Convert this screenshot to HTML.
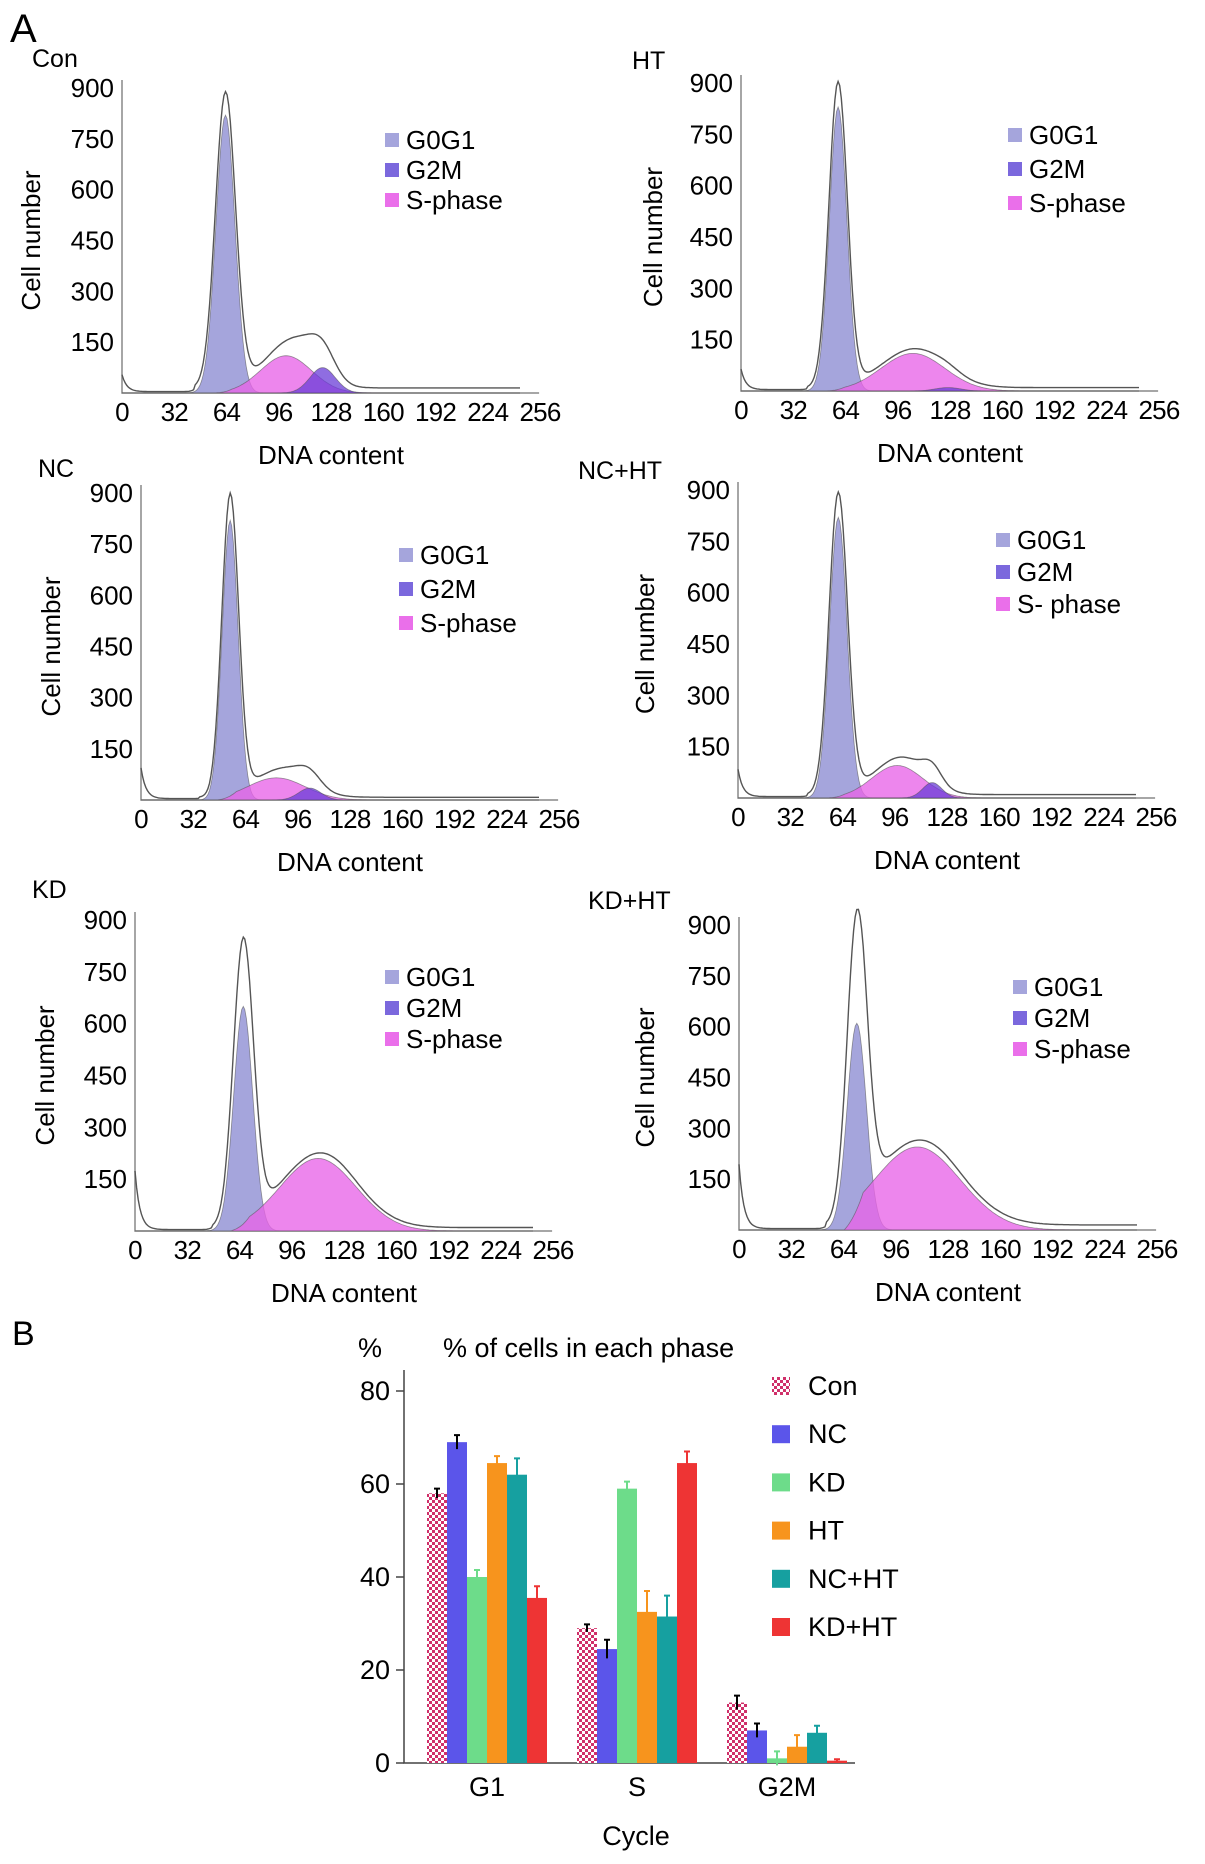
<!DOCTYPE html>
<html><head><meta charset="utf-8">
<style>
html,body{margin:0;padding:0;background:#fff;}
svg{display:block;font-family:"Liberation Sans",Arial,sans-serif;}
</style></head>
<body>
<svg id="fig" width="1205" height="1864" viewBox="0 0 1205 1864" xmlns="http://www.w3.org/2000/svg">
<defs>
<pattern id="checker" width="6" height="6" patternUnits="userSpaceOnUse">
<rect width="6" height="6" fill="#fff"/>
<rect width="3" height="3" fill="#d0306a"/><rect x="3" y="3" width="3" height="3" fill="#d0306a"/>
</pattern>
</defs>
<text x="10" y="42" font-size="40">A</text>
<text x="12" y="1345" font-size="34">B</text>
</svg>
<script>
// ---- Histogram data (DNA units / cell counts) ----
const panelNames = ["Con","HT","NC","NC+HT","KD","KD+HT"];
const g1Mean = [65,61,56,63,68,74];
const g1Height = [820,830,820,820,650,610];
const g1Sd = [6,5.5,5,5.5,6,6];
const outlinePeak = [870,890,880,880,820,870];
const sMean = [103,108,85,100,115,112];
const sHeight = [110,110,65,95,210,245];
const sSd = [16,20,18,16,24,27];
const g2Mean = [126,130,106,122,140,140];
const g2Height = [75,10,35,45,0,0];
const g2Sd = [8,8,7,6,8,8];
const extraBumpHeight = [45,5,25,20,10,10];
const debrisHeight = [50,60,90,80,170,190];
const tailLevel = [15,10,8,10,10,15];
const legendSecond = ["S-phase","S-phase","S-phase","S- phase","S-phase","S-phase"];
const yTicks = [150,300,450,600,750,900];
const xTicks = [0,32,64,96,128,160,192,224,256];

// ---- Bar chart data ----
const cycles = ["G1","S","G2M"];
const groups = ["Con","NC","KD","HT","NC+HT","KD+HT"];
const conVals = [58,29,13];
const ncVals = [69,24.5,7];
const kdVals = [40,59,1];
const htVals = [64.5,32.5,3.5];
const ncHtVals = [62,31.5,6.5];
const kdHtVals = [35.5,64.5,0.5];
const conErr = [1,0.8,1.5];
const ncErr = [1.5,2,1.5];
const kdErr = [1.5,1.5,1.5];
const htErr = [1.5,4.5,2.5];
const ncHtErr = [3.5,4.5,1.5];
const kdHtErr = [2.5,2.5,0.3];
const barTicks = [0,20,40,60,80];

const NS="http://www.w3.org/2000/svg";
const svg=document.getElementById('fig');
function mk(tag,attrs,parent){const e=document.createElementNS(NS,tag);for(const k in attrs)e.setAttribute(k,attrs[k]);(parent||svg).appendChild(e);return e;}
function txt(s,attrs,parent){const e=mk('text',attrs,parent);e.textContent=s;return e;}
function gauss(x,m,h,s){return h*Math.exp(-0.5*((x-m)/s)*(x-m)/s);}

// layout (pixels)
const layout=[
 {ox:122,base:393,top:88,lx:392,ly:140,dy:30,title:[32,58],cn:31},
 {ox:741,base:391,top:83,lx:1015,ly:135,dy:34,title:[632,60],cn:653},
 {ox:141,base:800,top:493,lx:406,ly:555,dy:34,title:[38,468],cn:51},
 {ox:738,base:798,top:490,lx:1003,ly:540,dy:32,title:[578,470],cn:645},
 {ox:135,base:1231,top:920,lx:392,ly:977,dy:31,title:[32,889],cn:45},
 {ox:739,base:1230,top:925,lx:1020,ly:987,dy:31,title:[588,900],cn:645}
];
const W=418;
panelNames.forEach((name,i)=>{
  const L=layout[i];
  const g=mk('g',{});
  
  
  const perCount=(L.base-L.top)/900;
  const X=v=>L.ox+v/256*W*0.975;
  const Y=c=>L.base-c*perCount;
  const t=txt(name,{x:L.title[0],y:L.title[1]+9,'font-size':25},g);
  
  
  const ax=mk('path',{d:`M${L.ox} ${L.top-8} V${L.base} H${X(262)}`,stroke:'#888',fill:'none','stroke-width':1.5},g);
  
  
  yTicks.forEach(v=>{
    const tl=txt(String(v),{x:L.ox-8,y:Y(v)+9,'font-size':26,'text-anchor':'end'},g);
    
    
  });
  xTicks.forEach(v=>{
    const tl=txt(String(v),{x:L.ox+v/256*W,y:L.base+28,'font-size':26,'text-anchor':'middle','letter-spacing':'-0.8'},g);
    
    
  });
  const xt=txt('DNA content',{x:L.ox+W/2,y:L.base+71,'font-size':26,'text-anchor':'middle'},g);
  
  
  const cy=(L.top+L.base)/2;
  const yt=txt('Cell number',{x:L.cn,y:cy,'font-size':26,'text-anchor':'middle',transform:`rotate(-90 ${L.cn} ${cy})`,dy:9},g);
  
  
  const comp=(f,fill,nm)=>{
    let d=`M${X(0)} ${L.base}`;
    for(let v=0;v<=250;v+=1)d+=` L${X(v).toFixed(1)} ${Y(f(v)).toFixed(1)}`;
    d+=` L${X(250)} ${L.base} Z`;
    const p=mk('path',{d,fill,stroke:'#555','stroke-width':0.8,'stroke-opacity':0.6},g);
    
    
  };
  const sF=v=>{const lo=g1Mean[i]-8; if(v<lo)return 0; const r=Math.min(1,(v-lo)/12); return gauss(v,sMean[i],sHeight[i],sSd[i])*r;};
  comp(v=>gauss(v,g1Mean[i],g1Height[i],g1Sd[i]),'#a5a5dc','g0g1-area');
  comp(sF,'rgba(232,100,232,0.78)','s-phase-area');
  if(g2Height[i]>0)comp(v=>gauss(v,g2Mean[i],g2Height[i],g2Sd[i]),'rgba(105,60,215,0.75)','g2m-area');
  let d='';
  for(let v=0;v<=250;v+=1){
    let c=gauss(v,g1Mean[i],outlinePeak[i],g1Sd[i]*1.05)+sF(v)+gauss(v,g2Mean[i],g2Height[i],g2Sd[i])
      +gauss(v,(sMean[i]+g2Mean[i])/2,extraBumpHeight[i],12)+debrisHeight[i]*Math.exp(-v/3)
      +(v>g1Mean[i]-20?tailLevel[i]:4);
    d+=(v?' L':'M')+X(v).toFixed(1)+' '+Y(c).toFixed(1);
  }
  const ol=mk('path',{d,fill:'none',stroke:'#555','stroke-width':1.4},g);
  
  
  const lg=[['G0G1','#a5a5dc'],['G2M','#7b68dd'],[legendSecond[i],'#ea6fea']];
  lg.forEach((e,k)=>{
    const yy=L.ly+k*L.dy;
    const s=mk('rect',{x:L.lx-7,y:yy-7,width:14,height:14,fill:e[1]},g);
    
    
    const lt=txt(e[0],{x:L.lx+14,y:yy+9,'font-size':26},g);
    
    
  });
});

// ---- bar chart ----
const bg=mk('g',{});


const ox=404, y0=1763, per=(1763-1391)/80, bw=20, gx=[427,577,727];
const Yb=v=>y0-v*per;
const series=[conVals,ncVals,kdVals,htVals,ncHtVals,kdHtVals];
const errs=[conErr,ncErr,kdErr,htErr,ncHtErr,kdHtErr];
const cols=['url(#checker)','#5b55ea','#6ddc8a','#f7941d','#16a0a0','#ee3434'];
const ecols=['#000','#000','#6ddc8a','#f7941d','#16a0a0','#ee3434'];
const ax2=mk('path',{d:`M${ox} 1370 V${y0} H855`,stroke:'#444',fill:'none','stroke-width':1.5},bg);


barTicks.forEach(v=>{
  const tk=mk('line',{x1:ox-8,x2:ox,y1:Yb(v),y2:Yb(v),stroke:'#444','stroke-width':1.5},bg);
  
  
  const tl=txt(String(v),{x:ox-14,y:Yb(v)+9,'font-size':27,'text-anchor':'end'},bg);
  
  
});
cycles.forEach((c,ci)=>{
  const cl=txt(c,{x:gx[ci]+60,y:1796,'font-size':27,'text-anchor':'middle'},bg);
  
  
  series.forEach((s,si)=>{
    const x=gx[ci]+si*bw;
    const r=mk('rect',{x:x,y:Yb(s[ci]),width:bw,height:y0-Yb(s[ci]),fill:cols[si]},bg);
    
    
    const e=errs[si][ci];
    const eb=mk('path',{d:`M${x+bw/2} ${Yb(s[ci]+e)} V${Yb(s[ci]-e)} M${x+bw/2-3} ${Yb(s[ci]+e)} H${x+bw/2+3}`,stroke:ecols[si],'stroke-width':2,fill:'none'},bg);
    
    
  });
});
const pc=txt('%',{x:358,y:1357,'font-size':27},bg);


const tt=txt('% of cells in each phase',{x:443,y:1357,'font-size':27},bg);


const ct=txt('Cycle',{x:636,y:1845,'font-size':27,'text-anchor':'middle'},bg);


groups.forEach((gname,gi)=>{
  const yy=1386+gi*48.2;
  const sw=mk('rect',{x:772,y:yy-9,width:18,height:18,fill:cols[gi]},bg);
  
  
  const lt=txt(gname,{x:808,y:yy+9,'font-size':27},bg);
  
  
});
</script>
</body></html>
